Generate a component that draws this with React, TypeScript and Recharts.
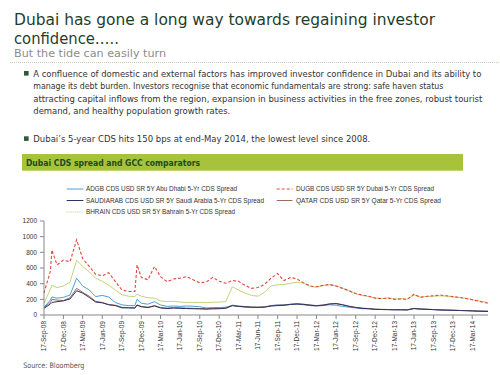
import { Line, LineChart, XAxis, YAxis } from 'recharts';

const dates = [
  '2008-09-17', '2008-10-17', '2008-10-24', '2008-11-17', '2008-12-17',
  '2009-01-17', '2009-02-17', '2009-03-17', '2009-04-17', '2009-05-17', '2009-06-17', '2009-07-17',
  '2009-08-17', '2009-09-17', '2009-10-17', '2009-11-17', '2009-11-27', '2009-12-17',
  '2010-01-17', '2010-02-17', '2010-03-17', '2010-04-17', '2010-05-17', '2010-06-17',
  '2010-07-17', '2010-08-17', '2010-09-17', '2010-10-17', '2010-11-17', '2010-12-17',
  '2011-01-17', '2011-02-17', '2011-03-17', '2011-04-17', '2011-05-17', '2011-06-17',
  '2011-07-17', '2011-08-17', '2011-09-17', '2011-10-17', '2011-11-17', '2011-12-17',
  '2012-01-17', '2012-02-17', '2012-03-17', '2012-04-17', '2012-05-17', '2012-06-17',
  '2012-07-17', '2012-08-17', '2012-09-17', '2012-10-17', '2012-11-17', '2012-12-17',
  '2013-01-17', '2013-02-17', '2013-03-17', '2013-04-17', '2013-05-17', '2013-06-17',
  '2013-07-17', '2013-08-17', '2013-09-17', '2013-10-17', '2013-11-17', '2013-12-17',
  '2014-01-17', '2014-02-17', '2014-03-17', '2014-04-17', '2014-05-30',
];

// bps
const dubai = [
  280, 560, 830, 640, 700,
  680, 960, 720, 620, 520, 500, 540, 430, 320, 300, 300, 640, 480,
  450, 620, 490, 425, 460, 470, 490, 450, 410, 420, 480, 430,
  405, 440, 430, 380, 340, 350, 390, 470, 530, 440, 480, 460,
  410, 370, 360, 380, 390, 370, 340, 310, 275, 255, 240, 215,
  210, 215, 200, 205, 200, 265, 225, 240, 245, 255, 245, 235,
  225, 210, 195, 175, 150,
];
const bahrain = [
  150, 330, 380, 350, 370,
  420, 700, 620, 550, 470, 430, 380, 320, 260, 240, 235, 265, 240,
  220, 215, 180, 170, 175, 165, 160, 160, 160, 158, 162, 165,
  170, 360, 320, 280, 250, 240, 290, 370, 385, 390, 405, 420,
  405, 365, 355, 375, 385, 370, 345, 305, 270, 250, 235, 215,
  212, 218, 205, 210, 205, 255, 230, 235, 240, 245, 240, 230,
  222, 212, 195, 180, 160,
];
const abuDhabi = [
  100, 190, 230, 215, 225,
  255, 470, 370, 320, 235, 250, 230, 160, 130, 120, 120, 200, 150,
  138, 170, 128, 110, 115, 110, 115, 112, 105, 90, 95, 95,
  100, 120, 110, 100, 95, 95, 100, 120, 130, 125, 135, 140,
  130, 120, 115, 120, 130, 125, 110, 100, 90, 80, 80, 72,
  70, 70, 68, 68, 66, 82, 75, 72, 70, 66, 62, 60,
  58, 56, 55, 52, 50,
];
const saudi = [
  85, 140, 160, 170, 180,
  205, 310, 280, 225, 165, 155, 130, 120, 92, 90, 88, 125, 105,
  95, 115, 90, 82, 88, 85, 82, 80, 78, 75, 78, 80,
  85, 120, 110, 105, 100, 98, 100, 115, 120, 125, 135, 140,
  135, 125, 118, 125, 140, 145, 130, 110, 95, 85, 80, 72,
  70, 68, 66, 66, 65, 82, 76, 72, 68, 64, 62, 60,
  57, 55, 52, 48, 45,
];
const qatar = [
  95, 160, 200, 190, 185,
  220, 340, 290, 240, 175, 160, 135, 125, 98, 95, 92, 130, 110,
  100, 120, 95, 88, 95, 92, 88, 85, 82, 80, 84, 86,
  90, 125, 115, 108, 102, 100, 104, 118, 124, 128, 138, 145,
  138, 128, 120, 128, 142, 148, 132, 112, 98, 88, 82, 75,
  72, 70, 68, 68, 66, 85, 78, 74, 70, 66, 63, 61,
  58, 56, 53, 50, 46,
];

const tickLabels = [
  '17-Sep-08', '17-Dec-08', '17-Mar-09', '17-Jun-09', '17-Sep-09', '17-Dec-09',
  '17-Mar-10', '17-Jun-10', '17-Sep-10', '17-Dec-10', '17-Mar-11', '17-Jun-11',
  '17-Sep-11', '17-Dec-11', '17-Mar-12', '17-Jun-12', '17-Sep-12', '17-Dec-12',
  '17-Mar-13', '17-Jun-13', '17-Sep-13', '17-Dec-13', '17-Mar-14',
];
const yTicks = [0, 200, 400, 600, 800, 1000, 1200];

const MONTHS = ['Jan', 'Feb', 'Mar', 'Apr', 'May', 'Jun', 'Jul', 'Aug', 'Sep', 'Oct', 'Nov', 'Dec'];
const isoTs = (s: string) => {
  const [y, m, d] = s.split('-').map(Number);
  return Date.UTC(y, m - 1, d);
};
const labelTs = (s: string) => {
  const [d, mon, yy] = s.split('-');
  return Date.UTC(2000 + Number(yy), MONTHS.indexOf(mon), Number(d));
};
const tsLabel = (t: number) => {
  const dt = new Date(t);
  return `${dt.getUTCDate()}-${MONTHS[dt.getUTCMonth()]}-${String(dt.getUTCFullYear()).slice(2)}`;
};

const rows = dates.map((d, i) => ({
  t: isoTs(d),
  dubai: dubai[i],
  bahrain: bahrain[i],
  abuDhabi: abuDhabi[i],
  saudi: saudi[i],
  qatar: qatar[i],
}));

const COLORS = {
  abuDhabi: '#4aa0d6',
  dubai: '#e2463c',
  saudi: '#2c3262',
  qatar: '#a06a5c',
  bahrain: '#c6d27c',
};

const BODY_FONT = '"DejaVu Sans Condensed", "DejaVu Sans", sans-serif';
const AXIS_FONT = '"Liberation Sans", Arial, sans-serif';

function XTick({ x, y, payload }: any) {
  return (
    <text
      transform={`translate(${x + 2.3},${y}) rotate(-90)`}
      textAnchor="end"
      fontSize={6.5}
      fontFamily={AXIS_FONT}
      fill="#333"
    >
      {tsLabel(payload.value)}
    </text>
  );
}

function YTick({ x, y, payload }: any) {
  return (
    <text x={x} y={y} dy="0.35em" textAnchor="end" fontSize={6.5} fontFamily={AXIS_FONT} fill="#333">
      {payload.value}
    </text>
  );
}

const legendLeft = [
  { key: 'abuDhabi', y: 189, label: 'ADGB CDS USD SR 5Y Abu Dhabi 5-Yr CDS Spread', w: 151, dash: undefined },
  { key: 'saudi', y: 200.5, label: 'SAUDIARAB CDS USD SR 5Y  Saudi Arabia 5-Yr CDS Spread', w: 178, dash: undefined },
  { key: 'bahrain', y: 212, label: 'BHRAIN CDS USD SR 5Y Bahrain 5-Yr CDS Spread', w: 149, dash: '1 1' },
];
const legendRight = [
  { key: 'dubai', y: 189, label: 'DUGB CDS USD SR 5Y Dubai 5-Yr CDS Spread', w: 138, dash: '3 2' },
  { key: 'qatar', y: 200.5, label: 'QATAR CDS USD SR 5Y Qatar 5-Yr CDS Spread', w: 145, dash: undefined },
];

export default function App() {
  return (
    <div style={{ position: 'absolute', left: 0, top: 0, width: 500, height: 375, background: '#fff' }}>
      <svg width={500} height={375} style={{ position: 'absolute', left: 0, top: 0 }}>
        <g fontFamily={BODY_FONT}>
          <text x={14} y={25} fontSize={16} fill="#1f3d2b" textLength={421} lengthAdjust="spacingAndGlyphs">
            Dubai has gone a long way towards regaining investor
          </text>
          <text x={14} y={43.5} fontSize={16} fill="#1f3d2b" textLength={105} lengthAdjust="spacingAndGlyphs">
            confidence…..
          </text>
          <text x={14} y={56.5} fontSize={10.5} fill="#8c8c8c" textLength={152} lengthAdjust="spacingAndGlyphs">
            But the tide can easily turn
          </text>
          <line x1={10} x2={500} y1={62.5} y2={62.5} stroke="#cdd0ad" strokeDasharray="1 1" />

          <rect x={24} y={71} width={4.6} height={4.6} fill="#2f5b35" />
          <g fontSize={8.6} fill="#333">
            <text x={33.3} y={76.7} textLength={448} lengthAdjust="spacingAndGlyphs">
              A confluence of domestic and external factors has improved investor confidence in Dubai and its ability to
            </text>
            <text x={33.3} y={89.2} textLength={410} lengthAdjust="spacingAndGlyphs">
              manage its debt burden. Investors recognise that economic fundamentals are strong: safe haven status
            </text>
            <text x={33.3} y={101.7} textLength={449} lengthAdjust="spacingAndGlyphs">
              attracting capital inflows from the region, expansion in business activities in the free zones, robust tourist
            </text>
            <text x={33.3} y={114.2} textLength={197} lengthAdjust="spacingAndGlyphs">
              demand, and healthy population growth rates.
            </text>
            <text x={33.3} y={141.5} textLength={337} lengthAdjust="spacingAndGlyphs">
              Dubai’s 5-year CDS hits 150 bps at end-May 2014, the lowest level since 2008.
            </text>
          </g>
          <rect x={24} y={136.3} width={4.6} height={4.6} fill="#2f5b35" />

          <rect x={22} y={154} width={441} height={16.7} fill="#a7c33b" />
          <text x={26} y={166} fontSize={8.2} fontWeight="bold" fill="#1d4a1d" textLength={174} lengthAdjust="spacingAndGlyphs">
            Dubai CDS spread and GCC comparators
          </text>

          <text x={23.3} y={367.7} fontSize={7.5} fill="#555" textLength={61} lengthAdjust="spacingAndGlyphs">
            Source: Bloomberg
          </text>
        </g>

        <g fontFamily={AXIS_FONT} fontSize={7} fill="#333">
          {legendLeft.map((l) => (
            <g key={l.key}>
              <line x1={66.7} x2={83.3} y1={l.y} y2={l.y} stroke={COLORS[l.key as keyof typeof COLORS]} strokeWidth={1} strokeDasharray={l.dash} />
              <text x={86} y={l.y + 2.3} textLength={l.w} lengthAdjust="spacingAndGlyphs">{l.label}</text>
            </g>
          ))}
          {legendRight.map((l) => (
            <g key={l.key}>
              <line x1={276.7} x2={292.5} y1={l.y} y2={l.y} stroke={COLORS[l.key as keyof typeof COLORS]} strokeWidth={1} strokeDasharray={l.dash} />
              <text x={296} y={l.y + 2.3} textLength={l.w} lengthAdjust="spacingAndGlyphs">{l.label}</text>
            </g>
          ))}
        </g>
      </svg>

      <div style={{ position: 'absolute', left: 0, top: 0 }}>
        <LineChart width={500} height={375} data={rows} margin={{ top: 221, right: 12, left: 0, bottom: 20 }}>
          <XAxis
            type="number"
            dataKey="t"
            domain={[isoTs(dates[0]), isoTs(dates[dates.length - 1])]}
            ticks={tickLabels.map(labelTs)}
            interval={0}
            height={40}
            tickSize={4}
            tickMargin={2}
            stroke="#888"
            tick={<XTick />}
          />
          <YAxis
            domain={[0, 1200]}
            ticks={yTicks}
            interval={0}
            width={44}
            tickSize={4}
            tickMargin={3}
            stroke="#888"
            tick={<YTick />}
          />
          <Line dataKey="bahrain" stroke={COLORS.bahrain} strokeWidth={1} dot={false} isAnimationActive={false} />
          <Line dataKey="abuDhabi" stroke={COLORS.abuDhabi} strokeWidth={1} dot={false} isAnimationActive={false} />
          <Line dataKey="qatar" stroke={COLORS.qatar} strokeWidth={1} dot={false} isAnimationActive={false} />
          <Line dataKey="saudi" stroke={COLORS.saudi} strokeWidth={1} dot={false} isAnimationActive={false} />
          <Line dataKey="dubai" stroke={COLORS.dubai} strokeWidth={1.1} strokeDasharray="3 2" dot={false} isAnimationActive={false} />
        </LineChart>
      </div>
    </div>
  );
}
